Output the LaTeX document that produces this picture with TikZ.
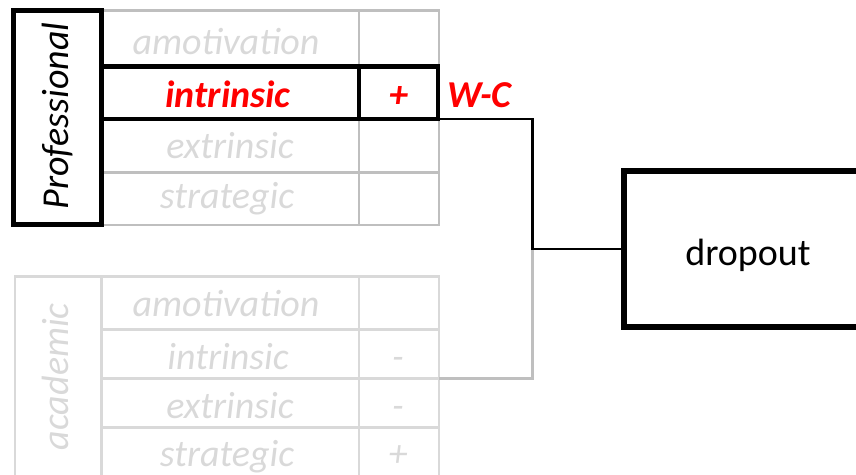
\documentclass[tikz,border=0pt]{standalone}
\usepackage{fontspec}
\setmainfont{Carlito}
\definecolor{gridA}{HTML}{BFBFBF}
\definecolor{gridB}{HTML}{D9D9D9}
\definecolor{txtGray}{HTML}{D9D9D9}
\definecolor{hotred}{HTML}{FF0000}
\begin{document}
\begin{tikzpicture}[x=1pt,y=-1pt,
  cellbase/.style={inner sep=0pt, outer sep=0pt, anchor=north west},
  gcellA/.style={cellbase, draw=gridA, line width=2.75pt},
  gcellB/.style={cellbase, draw=gridB, line width=2.75pt},
  hlcell/.style={cellbase, draw=black, line width=4.5pt},
  catbox/.style={cellbase, draw=black, line width=5pt},
  dropbox/.style={cellbase, draw=black, line width=6pt},
  txt/.style={inner sep=0pt, outer sep=0pt, anchor=base, font=\fontsize{38}{40}\selectfont},
  greytxt/.style={txt, text=txtGray, font=\fontsize{38}{40}\selectfont\itshape},
  redtxt/.style={txt, text=hotred, font=\fontsize{38}{40}\selectfont\bfseries\itshape},
  conn/.style={draw=black, line width=2.5pt},
  conngrey/.style={draw=gridA, line width=2.75pt}
]
\useasboundingbox (0,0) rectangle (856,474);

% ---------- top table (Professional) ----------
\node[gcellA, minimum width=257.5pt, minimum height=56pt] (p1l) at (101.5,10.7) {};
\node[gcellA, minimum width=80pt,    minimum height=56pt] (p1v) at (359,10.7) {};
\node[gcellA, minimum width=257.5pt, minimum height=53.7pt] (p3l) at (101.5,119) {};
\node[gcellA, minimum width=80pt,    minimum height=53.7pt] (p3v) at (359,119) {};
\node[gcellA, minimum width=257.5pt, minimum height=52.3pt] (p4l) at (101.5,172.7) {};
\node[gcellA, minimum width=80pt,    minimum height=52.3pt] (p4v) at (359,172.7) {};
\node[hlcell, minimum width=257.5pt, minimum height=52.3pt] (p2l) at (101.5,66.7) {};
\node[hlcell, minimum width=79pt,    minimum height=52.3pt] (p2v) at (359,66.7) {};
\node[catbox, minimum width=88pt, minimum height=213.7pt] (prof) at (13.5,10.3) {};

\node[greytxt] (t1) at (226,54.3) {amotivation};
\node[redtxt]  (t2) at (228,107) {intrinsic};
\node[greytxt] (t3) at (230,158) {extrinsic};
\node[greytxt] (t4) at (227,208) {strategic};
\node[redtxt]  (t2v) at (398.5,107) {+};
\node[redtxt, anchor=base west] (wc) at (447,107) {W-C};
\node[txt, font=\fontsize{38}{40}\selectfont\itshape, rotate=90] (proflbl) at (68,116) {Professional};

% ---------- bottom table (academic) ----------
\node[gcellB, minimum width=86.7pt, minimum height=199.6pt] (acad) at (15,276.7) {};
\node[gcellB, minimum width=257.3pt, minimum height=52.6pt] (a1l) at (101.7,276.7) {};
\node[gcellB, minimum width=80pt,    minimum height=52.6pt] (a1v) at (359,276.7) {};
\node[gcellB, minimum width=257.3pt, minimum height=49pt] (a2l) at (101.7,329.3) {};
\node[gcellB, minimum width=80pt,    minimum height=49pt] (a2v) at (359,329.3) {};
\node[gcellB, minimum width=257.3pt, minimum height=49pt] (a3l) at (101.7,378.3) {};
\node[gcellB, minimum width=80pt,    minimum height=49pt] (a3v) at (359,378.3) {};
\node[gcellB, minimum width=257.3pt, minimum height=49pt] (a4l) at (101.7,427.3) {};
\node[gcellB, minimum width=80pt,    minimum height=49pt] (a4v) at (359,427.3) {};

\node[greytxt] (u1) at (226,316.7) {amotivation};
\node[greytxt] (u2) at (228,369) {intrinsic};
\node[greytxt] (u3) at (230,418.3) {extrinsic};
\node[greytxt] (u4) at (227,466.7) {strategic};
\node[greytxt] (u2v) at (398,369) {-};
\node[greytxt] (u3v) at (398,418.3) {-};
\node[greytxt] (u4v) at (398,466.7) {+};
\node[greytxt, rotate=90] (acadlbl) at (68,376.7) {academic};

% ---------- dropout ----------
\node[dropbox, minimum width=250pt, minimum height=156pt] (drop) at (624,171) {};
\node[txt] (droptxt) at (748,265) {dropout};

% ---------- connectors ----------
\coordinate (jn) at (532.5,249);
\draw[conngrey] (a2v.south east) -| (jn);
\draw[conn] (p2v.south east) -| (jn) -- (drop.west);
\end{tikzpicture}
\end{document}
